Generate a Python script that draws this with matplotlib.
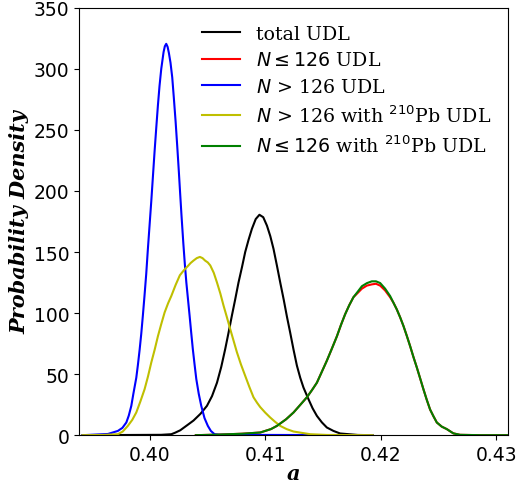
import matplotlib
matplotlib.use("Agg")
import matplotlib.pyplot as plt

# values (a, probability density)
total_a = [0.3942, 0.4010, 0.40188, 0.4022, 0.40265, 0.4033, 0.4038, 0.4044, 0.40496, 0.4054,
           0.40583, 0.4062, 0.40654, 0.40683, 0.40712, 0.4074, 0.40769, 0.4080, 0.40827, 0.40856,
           0.40885, 0.40918, 0.40950, 0.40983, 0.41015, 0.41044, 0.41072, 0.41101, 0.41130, 0.41160,
           0.41188, 0.41216, 0.41245, 0.41274, 0.41303, 0.41331, 0.41374, 0.4141, 0.41447, 0.4149,
           0.41533, 0.4159, 0.41648, 0.41800, 0.41930]
total_y = [0, 0.3, 0.8, 2, 4, 8.5, 12, 17.5, 24, 32,
           43, 56, 70.5, 84, 98, 111, 125, 138, 150, 160,
           169, 177, 180.5, 178.5, 171.6, 163, 152.5, 139, 125, 111,
           97, 84, 70, 57, 47, 39, 29.5, 22, 15.8, 10.5,
           6.3, 3.5, 1.4, 0.2, 0]

hi_a = [0.3942, 0.3964, 0.39726, 0.39765, 0.39799, 0.3982, 0.39842, 0.3986, 0.39885, 0.39899,
        0.39914, 0.39928, 0.39942, 0.39956, 0.39971, 0.39985, 0.4000, 0.40015, 0.40043, 0.40058,
        0.40072, 0.40086, 0.40101, 0.40121, 0.40132, 0.40144, 0.40156, 0.40167, 0.40181, 0.40196,
        0.40210, 0.40225, 0.40239, 0.40253, 0.40265, 0.40276, 0.40292, 0.40305, 0.40318, 0.40332,
        0.40346, 0.4036, 0.40374, 0.40389, 0.40404, 0.40425, 0.40447, 0.40475, 0.40504, 0.4053,
        0.40562, 0.4060, 0.4193]
hi_y = [0, 1, 3.5, 6, 10.4, 16, 24, 34, 47, 57.5,
        70, 83, 98, 114, 132, 152, 172, 192, 232, 252,
        270, 286, 300, 313.7, 318.5, 320.5, 318, 313, 305, 293,
        276, 257, 237, 216, 197, 180, 157, 140, 125, 111.5,
        98, 84, 70.5, 58, 46, 34, 24, 14, 7.6, 3.5,
        0.8, 0.3, 0]

hi_pb_a = [0.3942, 0.3960, 0.39726, 0.39768, 0.39812, 0.3985, 0.39885, 0.3992, 0.39957, 0.39986,
           0.40015, 0.40044, 0.40072, 0.40101, 0.4013, 0.4016, 0.40188, 0.40225, 0.40262, 0.40296,
           0.40331, 0.40355, 0.4038, 0.40408, 0.40435, 0.40458, 0.4048, 0.40503, 0.40525, 0.40555,
           0.40583, 0.40612, 0.4064, 0.40669, 0.40697, 0.40726, 0.40755, 0.4079, 0.40827, 0.40863,
           0.40899, 0.4093, 0.40957, 0.4100, 0.41043, 0.41085, 0.4113, 0.41185, 0.41245, 0.41389,
           0.41533, 0.4193]
hi_pb_y = [0, 0.2, 0.8, 3, 7.6, 12.5, 18.6, 27.5, 37.7, 48,
           59.6, 70, 81, 91, 100.5, 108, 114, 123, 131, 135,
           138.5, 141, 143, 145, 146, 145, 143, 141.5, 139, 133,
           125, 116, 106, 96.5, 87, 77.5, 68, 58, 48.6, 39.5,
           31, 26.5, 23, 18.5, 14.5, 11, 7.6, 5, 3, 0.8,
           0.2, 0]

lo_a = [0.4040, 0.4060, 0.4080, 0.40957, 0.4105, 0.41101, 0.4118, 0.41245, 0.4130, 0.4136,
        0.41405, 0.41447, 0.4149, 0.41533, 0.41577, 0.4162, 0.41656, 0.41691, 0.41727, 0.41763,
        0.4180, 0.41836, 0.41879, 0.41922, 0.41958, 0.41994, 0.42037, 0.4208, 0.42109, 0.42138,
        0.42167, 0.42195, 0.42224, 0.42253, 0.42282, 0.42311, 0.4234, 0.42368, 0.42397, 0.42426,
        0.42455, 0.42484, 0.42527, 0.4257, 0.42627, 0.42685, 0.4286, 0.4310]
lo_y = [0, 0.5, 1.2, 2.2, 5, 7.6, 13, 18.6, 24.5, 31,
        37, 43, 52, 61, 71, 81, 90.5, 99, 106.5, 113,
        116.5, 120, 122.5, 123.5, 124, 122.5, 118.5, 113, 108.5, 103,
        96.5, 89.6, 81.5, 73, 64, 55.5, 46.5, 37.7, 29, 21,
        15.5, 10.4, 7, 5, 1.5, 0.3, 0, 0]
lo_pb_y = [0, 0.5, 1.2, 2.2, 5, 7.6, 13, 18.6, 24.5, 31,
           37, 43, 52, 61, 71, 81, 90.5, 99, 106.5, 113,
           117.5, 122, 124.5, 126, 126, 124.6, 120, 114, 108.5, 103,
           96.5, 89.6, 81.5, 73, 64, 55.5, 46.5, 37.7, 29, 21,
           15.5, 10.4, 7, 5, 1.5, 0.3, 0, 0]

labels = ['total UDL', r'$N \leq 126$ UDL', r'$N$ > 126 UDL',
          r'$N$ > 126 with $^{210}$Pb UDL', r'$N \leq 126$ with $^{210}$Pb UDL']

fig = plt.figure(figsize=(5.2, 4.89), dpi=100)
ax = fig.add_axes([0.152, 0.108, 0.825, 0.874])

ax.plot(total_a, total_y, color='k', lw=1.5, label=labels[0])
ax.plot(lo_a, lo_y, color='r', lw=1.5, label=labels[1])
ax.plot(hi_a, hi_y, color='b', lw=1.5, label=labels[2])
ax.plot(hi_pb_a, hi_pb_y, color='y', lw=1.5, label=labels[3])
ax.plot(lo_a, lo_pb_y, color='g', lw=1.5, label=labels[4])

ax.set_xlim(0.3939, 0.4310)
ax.set_ylim(0, 350)
ax.set_xticks([0.40, 0.41, 0.42, 0.43])
ax.set_yticks(range(0, 351, 50))
ax.tick_params(labelsize=13.5)

lab_font = dict(family='DejaVu Serif', weight='bold', style='italic', size=15)
ax.set_xlabel('a', fontdict=lab_font, labelpad=-1)
ax.set_ylabel('Probability Density', fontdict=lab_font, labelpad=3)

ax.legend(loc='upper right', frameon=False, prop={'family': 'DejaVu Serif', 'size': 13.7},
          labelspacing=0.45)

fig.savefig('out.png', dpi=100)
